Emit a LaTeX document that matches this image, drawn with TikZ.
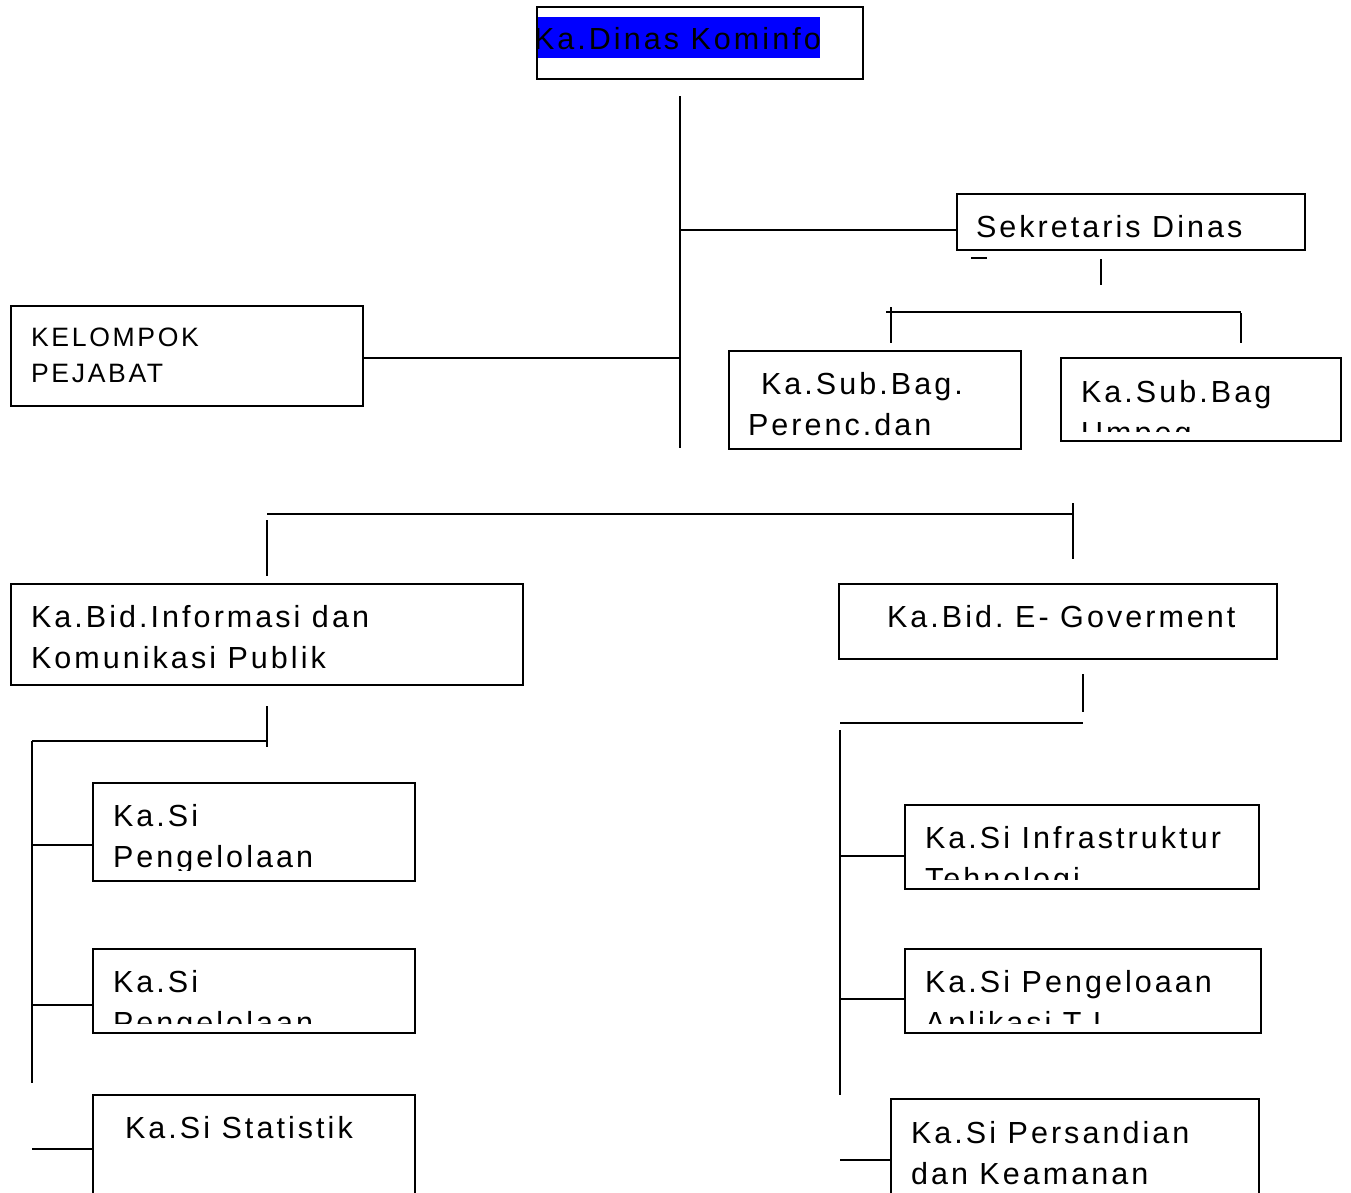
\documentclass[tikz,border=0pt]{standalone}
\usepackage{fontspec}
\setmainfont{Liberation Sans}
\newfontfamily\orgfont[LetterSpace=10]{Liberation Sans}
\frenchspacing
\begin{document}
\begin{tikzpicture}[x=1pt,y=-1pt]
\tikzset{
  wire/.style={line width=2pt, draw=black},
  box/.style={draw=black, line width=2pt, rectangle, inner sep=0pt, outer sep=0pt, anchor=north west},
  lbl/.style={anchor=base west, inner sep=0pt, outer sep=0pt, font=\orgfont\fontsize{30.5}{41}\selectfont\frenchspacing},
  smalllbl/.style={lbl, font=\orgfont\fontsize{26.6}{36}\selectfont\frenchspacing},
}
% box from its corners: name, left, top, right, bottom
\newcommand\orgbox[5]{\node[box, minimum width={#4-#2}, minimum height={#5-#3}] (#1) at (#2,#3) {};}
\newcommand\twolines[2]{\begin{tabular}[t]{@{}l@{}}#1\\#2\end{tabular}}

\path[use as bounding box, clip] (0,0) rectangle (1351,1192);
\fill[white] (0,0) rectangle (1351,1192);

% ---- boxes ----
\orgbox{dinas}{537}{7}{863}{79}
\orgbox{sekr}{957}{194}{1305}{250}
\orgbox{kel}{11}{306}{363}{406}
\orgbox{perenc}{729}{351}{1021}{449}
\orgbox{umpeg}{1061}{358}{1341}{441}
\orgbox{bidinfo}{11}{584}{523}{685}
\orgbox{bidegov}{839}{584}{1277}{659}
\orgbox{pengelA}{93}{783}{415}{881}
\orgbox{pengelB}{93}{949}{415}{1033}
\orgbox{statistik}{93}{1095}{415}{1210}
\orgbox{infra}{905}{805}{1259}{889}
\orgbox{aplikasi}{905}{949}{1261}{1033}
\orgbox{sandi}{891}{1099}{1259}{1210}

% ---- labels ----
\fill[blue] (538,17) rectangle (820,58);
\node[lbl] (dinas-t) at (534,49) {Ka.Dinas Kominfo};
\node[lbl] (sekr-t) at (976,237) {Sekretaris Dinas};
\node[smalllbl] (kel-t) at (31,346) {\begin{tabular}[t]{@{}l@{}}KELOMPOK\\PEJABAT\end{tabular}};
\node[lbl] (perenc-t) at (748,394) {\twolines{\hspace*{13pt}Ka.Sub.Bag.}{Perenc.dan}};
\begin{scope}
  \clip (umpeg.north west) rectangle (1341,431);
  \node[lbl] (umpeg-t) at (1081,402) {\twolines{Ka.Sub.Bag}{Umpeg}};
\end{scope}
\node[lbl] (bidinfo-t) at (31,627) {\twolines{Ka.Bid.Informasi dan}{Komunikasi Publik}};
\node[lbl] (bidegov-t) at (887,627) {Ka.Bid. E- Goverment};
\begin{scope}
  \clip (pengelA.north west) rectangle (415,870);
  \node[lbl] (pengelA-t) at (113,826) {\twolines{Ka.Si}{Pengelolaan}};
\end{scope}
\begin{scope}
  \clip (pengelB.north west) rectangle (415,1023);
  \node[lbl] (pengelB-t) at (113,992) {\twolines{Ka.Si}{Pengelolaan}};
\end{scope}
\node[lbl] (statistik-t) at (125,1138) {Ka.Si Statistik};
\begin{scope}
  \clip (infra.north west) rectangle (1259,879);
  \node[lbl] (infra-t) at (925,848) {\twolines{Ka.Si Infrastruktur}{Tehnologi}};
\end{scope}
\begin{scope}
  \clip (aplikasi.north west) rectangle (1261,1023);
  \node[lbl] (aplikasi-t) at (925,992) {\twolines{Ka.Si Pengeloaan}{Aplikasi T.I}};
\end{scope}
\node[lbl] (sandi-t) at (911,1143) {\twolines{Ka.Si Persandian}{dan Keamanan}};

% ---- connectors ----
\coordinate (trunkTop) at (680,96);
\coordinate (trunkBot) at (680,448);
\draw[wire] (trunkTop) -- (trunkBot);
\coordinate (jSekr) at (680,230);
\draw[wire] (jSekr) -- (jSekr -| sekr.west);
\coordinate (jKel) at (680,358);
\draw[wire] (jKel -| kel.east) -- (jKel);

\coordinate (dashA) at (971,258);
\coordinate (dashB) at (987,258);
\draw[wire] (dashA) -- (dashB);
\coordinate (sekrDownA) at (1101,259);
\coordinate (sekrDownB) at (1101,285);
\draw[wire] (sekrDownA) -- (sekrDownB);
\coordinate (subBarL) at (886,312);
\coordinate (subBarR) at (1241,312);
\draw[wire] (subBarL) -- (subBarR);
\coordinate (tickA) at (891,307);
\draw[wire] (tickA) -- (tickA |- 0,343);
\coordinate (tickB) at (1241,313);
\draw[wire] (tickB) -- (tickB |- 0,343);

\coordinate (bidBarL) at (267,514);
\coordinate (bidBarR) at (1073,514);
\draw[wire] (bidBarL) -- (bidBarR);
\coordinate (bidLTop) at (267,520);
\draw[wire] (bidLTop) -- (bidLTop |- 0,576);
\coordinate (bidRTop) at (1073,503);
\draw[wire] (bidRTop) -- (bidRTop |- 0,559);

\coordinate (infoDown) at (267,706);
\draw[wire] (infoDown) -- (infoDown |- 0,747);
\coordinate (infoBarL) at (32,741);
\coordinate (infoBarR) at (267,741);
\draw[wire] (infoBarL) -- (infoBarR);
\coordinate (infoTrunk) at (32,1083);
\draw[wire] (infoBarL) -- (infoTrunk);
\coordinate (brA) at (32,845);
\draw[wire] (brA) -- (brA -| pengelA.west);
\coordinate (brB) at (32,1005);
\draw[wire] (brB) -- (brB -| pengelB.west);
\coordinate (brC) at (32,1149);
\draw[wire] (brC) -- (brC -| statistik.west);

\coordinate (egovDown) at (1083,674);
\draw[wire] (egovDown) -- (egovDown |- 0,712);
\coordinate (egovBarL) at (840,723);
\coordinate (egovBarR) at (1083,723);
\draw[wire] (egovBarL) -- (egovBarR);
\coordinate (egovTrunkA) at (840,730);
\coordinate (egovTrunkB) at (840,1095);
\draw[wire] (egovTrunkA) -- (egovTrunkB);
\coordinate (brD) at (840,856);
\draw[wire] (brD) -- (brD -| infra.west);
\coordinate (brE) at (840,999);
\draw[wire] (brE) -- (brE -| aplikasi.west);
\coordinate (brF) at (840,1160);
\draw[wire] (brF) -- (brF -| sandi.west);
\end{tikzpicture}
\end{document}
